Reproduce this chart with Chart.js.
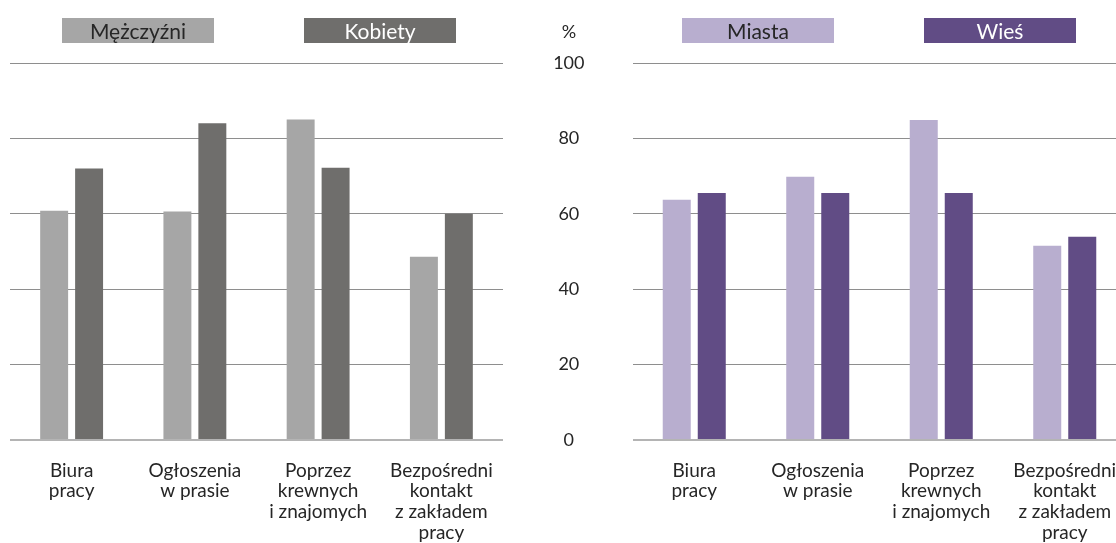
<!DOCTYPE html>
<html>
<head>
<meta charset="utf-8">
<script src="https://cdn.jsdelivr.net/npm/chart.js@4/dist/chart.umd.min.js"></script>
<style>
  html, body { margin: 0; padding: 0; background: #fff; overflow: hidden; }
  #page { position: relative; width: 1116px; height: 543px; overflow: hidden; font-family: Lato, sans-serif; }
  canvas { position: absolute; top: 0; }
  .key { position: absolute; top: 18px; width: 152px; height: 25px; line-height: 25px;
         text-align: center; font-size: 21px; }
  #pct { position: absolute; left: 549px; width: 40px; top: 20px; text-align: center;
         font-size: 18px; color: #262626; }
</style>
</head>
<body>
<div id="page">
  <canvas id="left" width="520" height="543" style="left:0"></canvas>
  <canvas id="right" width="600" height="543" style="left:540px"></canvas>
  <div id="pct">%</div>
</div>
<script>
// categories (x axis)
const categories = [
    ['Biura', 'pracy'],
    ['Ogłoszenia', 'w prasie'],
    ['Poprzez', 'krewnych', 'i znajomych'],
    ['Bezpośredni', 'kontakt', 'z zakładem', 'pracy']
];
// left panel: sex
const menValues = [60.8, 60.6, 85.0, 48.6];
const womenValues = [72.0, 84.0, 72.2, 60.0];
// right panel: place of living
const cityValues = [63.7, 69.8, 84.9, 51.5];
const villageValues = [65.5, 65.5, 65.5, 53.9];
// y axis
const yTicks = [0, 20, 40, 60, 80, 100];

const FONT = 'Lato, sans-serif';

function gridColor(ctx) {
    return ctx.tick && ctx.tick.value === 0 ? '#b4b4b4' : '#8e8e8e';
}
function gridWidth(ctx) {
    return ctx.tick && ctx.tick.value === 0 ? 2 : 1;
}

function makeChart(id, sets, showY, padding, yWidth) {
    return new Chart(document.getElementById(id), {
        type: 'bar',
        data: {
            labels: categories,
            datasets: sets.map(s => ({
                label: s.label,
                data: s.data,
                backgroundColor: s.color,
                borderWidth: 0,
                categoryPercentage: 0.567,
                barPercentage: 0.8
            }))
        },
        options: {
            responsive: false,
            animation: false,
            devicePixelRatio: 1,
            layout: { padding: padding },
            plugins: { legend: { display: false }, tooltip: { enabled: false } },
            scales: {
                x: {
                    grid: { display: false, drawTicks: false },
                    border: { display: false },
                    ticks: {
                        color: '#262626',
                        font: { family: FONT, size: 19, lineHeight: 1.1 },
                        padding: 20,
                        maxRotation: 0,
                        autoSkip: false
                    },
                    afterFit: s => { s.height = 103; }
                },
                y: {
                    min: 0,
                    max: 100,
                    afterBuildTicks: s => { s.ticks = yTicks.map(v => ({ value: v })); },
                    grid: { color: gridColor, lineWidth: gridWidth, drawTicks: false },
                    border: { display: false },
                    ticks: {
                        display: showY,
                        color: '#262626',
                        font: { family: FONT, size: 18 },
                        crossAlign: 'center',
                        padding: 48
                    },
                    afterFit: s => { s.width = yWidth; }
                }
            }
        }
    });
}

const leftSets = [
    { label: 'Mężczyźni', data: menValues, color: '#a6a6a6', text: '#262626' },
    { label: 'Kobiety', data: womenValues, color: '#6f6e6c', text: '#ffffff' }
];
const rightSets = [
    { label: 'Miasta', data: cityValues, color: '#b8aecf', text: '#262626' },
    { label: 'Wieś', data: villageValues, color: '#614c85', text: '#ffffff' }
];

makeChart('left', leftSets, false, { left: 10, right: 17, top: 63, bottom: 0 }, 0);
makeChart('right', rightSets, true, { left: 0, right: 13.5, top: 63, bottom: 0 }, 92.5);

// legend boxes with the series names inside
function addKeys(sets, lefts) {
    sets.forEach((s, i) => {
        const d = document.createElement('div');
        d.className = 'key';
        d.style.left = lefts[i] + 'px';
        d.style.background = s.color;
        d.style.color = s.text;
        d.textContent = s.label;
        document.getElementById('page').appendChild(d);
    });
}
addKeys(leftSets, [62, 304]);
addKeys(rightSets, [682, 924]);
</script>
</body>
</html>
